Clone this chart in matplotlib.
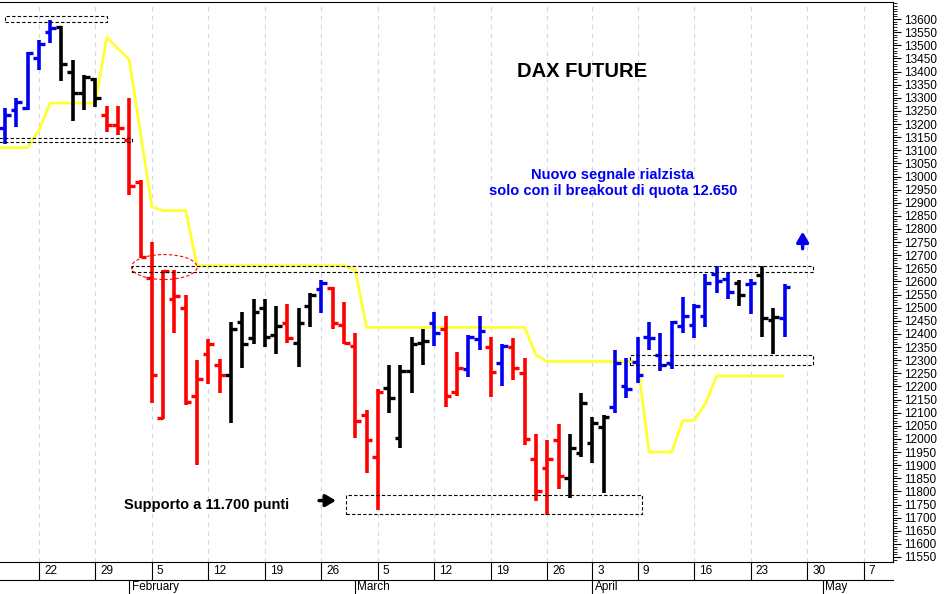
import matplotlib
matplotlib.use("Agg")
import matplotlib.pyplot as plt
from matplotlib.patches import Rectangle, Ellipse
import matplotlib.transforms as mtransforms

plt.rcParams['font.family'] = ['Liberation Sans', 'DejaVu Sans']

highs  = [13260,13300,13475,13520,13595,13575,13445,13385,13375,13270,13270,13300,12985,12750,12645,12645,12550,12300,12380,12305,
          12445,12485,12535,12535,12505,12515,12500,12555,12605,12580,12520,12405,12110,12190,12280,12280,12390,12420,12485,12470,
          12330,12395,12470,12390,12360,12385,12310,12020,11995,12055,12020,12175,12085,12090,12340,12310,12390,12445,12405,12450,
          12540,12515,12630,12660,12635,12605,12610,12660,12500,12590]
lows   = [13125,13190,13255,13405,13510,13365,13210,13255,13265,13170,13160,12930,12690,12135,12075,12405,12130,11900,12210,12175,
          12060,12270,12360,12350,12325,12365,12275,12425,12480,12420,12360,12005,11870,11730,12100,11965,12175,12280,12355,12120,
          12165,12235,12340,12160,12200,12225,11975,11765,11710,11810,11775,11930,11910,11795,12100,12155,12215,12340,12260,12265,
          12405,12385,12425,12555,12535,12505,12475,12390,12325,12390]
opens  = [13185,13255,13260,13450,13550,13570,13400,13320,13370,13235,13195,13140,12980,12615,12080,12535,12500,12165,12325,12280,
          12245,12445,12385,12500,12395,12440,12365,12505,12570,12575,12435,12355,12090,11930,12195,12005,12260,12365,12440,12420,
          12180,12265,12380,12350,12290,12350,12250,11925,11890,11995,11850,11945,11985,12045,12120,12200,12295,12390,12320,12290,
          12430,12435,12470,12630,12610,12595,12590,12625,12455,12460]
closes = [13235,13285,13470,13505,13565,13430,13320,13380,13300,13195,13185,12965,12695,12245,12640,12545,12140,12230,12360,12245,
          12420,12360,12485,12390,12430,12385,12440,12550,12595,12440,12365,12070,11995,12180,12155,12260,12360,12375,12405,12165,
          12270,12390,12410,12255,12355,12270,12000,11800,11925,11860,11965,12135,12060,12085,12290,12190,12245,12385,12280,12445,
          12470,12505,12595,12600,12560,12550,12595,12460,12465,12580]
colors = list("bbbbbkkkkrrrrrrrrrrrkkkkkrkkbrrrrrkkkkbrrbbrbrrrrrkkkkbbbbbbbbbbbkbkkb")

yellow_x = [-0.5, 2, 3, 4, 8, 9, 11, 13, 14, 16, 17, 30, 31, 32, 46, 47, 48, 56, 57, 59, 60, 61, 62, 63, 69]
yellow_y = [13110,13110,13175,13280,13280,13530,13445,12885,12870,12870,12660,12660,12645,12425,12425,12320,12295,12295,
            11950,11950,12070,12070,12135,12240,12240]

week_idx = [3, 8, 13, 18, 23, 28, 33, 38, 43, 48, 52, 56, 61, 66, 71, 76]
week_lbl = ['22','29','5','12','19','26','5','12','19','26','3','9','16','23','30','7']
month_idx = [11, 31, 52, 72.4]
month_lbl = ['February', 'March', 'April', 'May']

cmap = {'b': '#0000ee', 'k': '#000000', 'r': '#ff0000'}

fig = plt.figure(figsize=(9.47, 5.94), dpi=100)
ax = fig.add_axes([0.0, 0.0539, 0.943, 0.9427])
ax.set_xlim(-0.44, 78.6)
ax.set_ylim(11531, 13665)

for xi in week_idx:
    ax.axvline(xi, color='#d0d4ec', lw=0.8, ls=(0, (4, 4)), zorder=0)

ax.plot(yellow_x, yellow_y, color='#ffff33', lw=2, zorder=2, solid_capstyle='butt')

for i in range(len(highs)):
    c = cmap[colors[i]]
    ax.vlines(i, lows[i], highs[i], color=c, lw=2.6, zorder=3)
    ax.hlines(opens[i], i - 0.5, i, color=c, lw=2.4, zorder=3)
    ax.hlines(closes[i], i, i + 0.5, color=c, lw=2.4, zorder=3)

boxes = [(0.0, 13590, 9.0, 13610), (-0.5, 13130, 11.2, 13145), (11.2, 12635, 71.5, 12660),
         (55.3, 12280, 71.5, 12320), (30.2, 11715, 56.4, 11785)]
for x0, y0, x1, y1 in boxes:
    ax.add_patch(Rectangle((x0, y0), x1 - x0, y1 - y0, fill=False, ec='black', lw=0.8,
                           ls=(0, (3, 2)), zorder=4))
ax.add_patch(Ellipse((14.1, 12655), 5.8, 95, fill=False, ec='red', lw=0.8, ls=(0, (3, 2)), zorder=4))

ax.text(51.1, 13400, 'DAX FUTURE', fontsize=14.5, fontweight='bold', ha='center', va='center')
ax.text(53.8, 12975, 'Nuovo segnale rialzista\nsolo con il breakout di quota 12.650', color='#0000ee',
        fontsize=10.5, fontweight='bold', ha='center', va='center', linespacing=1.15)
ax.text(10.5, 11748, 'Supporto a 11.700 punti', fontsize=10.5, fontweight='bold', ha='left', va='center')
ax.annotate('', xy=(29.3, 11765), xytext=(27.8, 11765),
            arrowprops=dict(arrowstyle='-|>,head_width=0.35,head_length=0.6', color='black', lw=2.5,
                            shrinkA=0, shrinkB=0))
ax.annotate('', xy=(70.6, 12790), xytext=(70.6, 12725),
            arrowprops=dict(arrowstyle='-|>,head_width=0.35,head_length=0.6', color='#0000ee', lw=2.5,
                            shrinkA=0, shrinkB=0))

ax.yaxis.tick_right()
ax.set_yticks(range(11550, 13601, 50))
ax.set_yticks(range(11540, 13661, 10), minor=True)
ax.tick_params(axis='y', which='major', length=6, labelsize=8.5, pad=2)
ax.tick_params(axis='y', which='minor', length=3)
ax.set_xticks([])
ax.spines['left'].set_visible(False)

trans = mtransforms.blended_transform_factory(ax.transData, fig.transFigure)
r1_top, r1_bot = (594 - 562) / 594, (594 - 580) / 594
fig.add_artist(plt.Line2D([0, 0.943], [r1_bot, r1_bot], color='black', lw=0.8, transform=fig.transFigure))
for xi, lb in zip(week_idx, week_lbl):
    ax.plot([xi, xi], [r1_top, r1_bot], color='black', lw=0.8, transform=trans, clip_on=False)
    ax.text(xi + 0.45, (r1_top + r1_bot) / 2, lb, fontsize=8.5, ha='left', va='center', transform=trans, clip_on=False)
for xi, lb in zip(month_idx, month_lbl):
    ax.plot([xi, xi], [r1_bot, 0], color='black', lw=0.8, transform=trans, clip_on=False)
    ax.text(xi + 0.2, r1_bot / 2, lb, fontsize=8.5, ha='left', va='center', transform=trans, clip_on=False)

fig.savefig('out.png', dpi=100)
